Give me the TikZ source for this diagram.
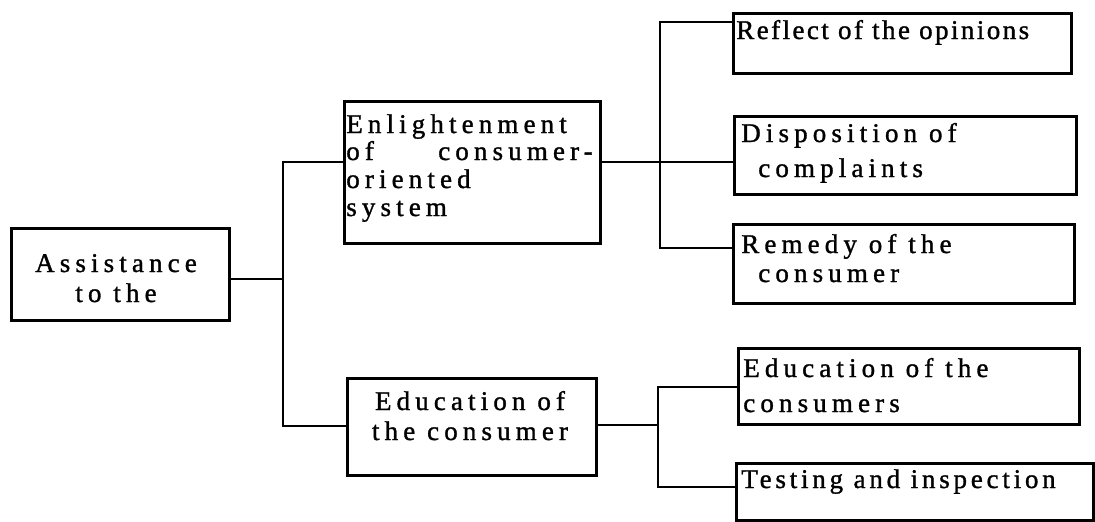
\documentclass[tikz,border=0pt]{standalone}
\usepackage{fontspec}
\setmainfont{Liberation Serif}
% three trackings of the same serif face
\newfontfamily\trackwide[LetterSpace=19,FakeBold=1.2]{Liberation Serif}
\newfontfamily\trackmid[LetterSpace=14,FakeBold=1.2]{Liberation Serif}
\newfontfamily\tracknarrow[LetterSpace=9,FakeBold=1.2]{Liberation Serif}
\begin{document}
\begin{tikzpicture}[x=1pt,y=-1pt,
  line width=2.6pt,
  box/.style={draw, rectangle, inner sep=0pt, anchor=north west},
  lbl/.style={inner sep=0pt, font=\fontsize{27}{30}\trackwide},
  lblmid/.style={inner sep=0pt, font=\fontsize{27}{30}\trackmid},
  lblnarrow/.style={inner sep=0pt, font=\fontsize{27}{30}\tracknarrow},
  link/.style={line width=2.6pt}]
\useasboundingbox (0,0) rectangle (1095,522);

% boxes
\node[box, minimum width=218, minimum height=92] (A)  at (10,227)  {};
\node[box, minimum width=256, minimum height=142] (B) at (343,100) {};
\node[box, minimum width=249, minimum height=97] (C)  at (346,377) {};
\node[box, minimum width=338, minimum height=60] (R1) at (732,12)  {};
\node[box, minimum width=342, minimum height=78] (R2) at (733,115) {};
\node[box, minimum width=341, minimum height=79] (R3) at (732,223) {};
\node[box, minimum width=341, minimum height=76] (D)  at (737,347) {};
\node[box, minimum width=357, minimum height=57] (E)  at (735,462) {};

% texts
\node[lbl, anchor=base] (a1) at (116,272) {Assistance};
\node[lbl, anchor=base] (a2) at (116,302) {to the};

\node[lbl, anchor=base west] (b1) at (345,133) {Enlightenment};
\node[lbl, anchor=base west] (b2) at (345,160) {of};
\node[lbl, anchor=base east] (b3) at (594,160) {consumer-};
\node[lbl, anchor=base west] (b4) at (345,188) {oriented};
\node[lbl, anchor=base west] (b5) at (345,216) {system};

\node[lbl, anchor=base] (c1) at (470,410) {Education of};
\node[lbl, anchor=base] (c2) at (470,440) {the consumer};

\node[lblnarrow, anchor=base west] (r1t) at (735,39) {Reflect of the opinions};
\node[lbl, anchor=base west] (r2a) at (740,142) {Disposition of};
\node[lbl, anchor=base west] (r2b) at (757,177) {complaints};
\node[lbl, anchor=base west] (r3a) at (740,253) {Remedy of the};
\node[lbl, anchor=base west] (r3b) at (757,282) {consumer};
\node[lbl, anchor=base west] (d1) at (742,377) {Education of the};
\node[lbl, anchor=base west] (d2) at (742,412) {consumers};
\node[lblmid, anchor=base west] (e1) at (740,488) {Testing and inspection};

% trunk lines
\coordinate (t1top) at (283,162);
\coordinate (t1bot) at (283,426);
\coordinate (t2top) at (660,22);
\coordinate (t2bot) at (660,248);
\coordinate (t3top) at (658,387);
\coordinate (t3bot) at (658,487);
\coordinate (t3mid) at (658,425);

\draw[link] (A.east |- 0,279) -- (t1top |- 0,279);
\draw[link] (B.west |- t1top) -- (t1top) -- (t1bot) -- (C.west |- t1bot);

\draw[link] (R1.west |- t2top) -- (t2top) -- (t2bot) -- (R3.west |- t2bot);
\draw[link] (B.east |- 0,162) -- (R2.west |- 0,162);

\draw[link] (C.east |- t3mid) -- (t3mid);
\draw[link] (D.west |- t3top) -- (t3top) -- (t3bot) -- (E.west |- t3bot);
\end{tikzpicture}
\end{document}
